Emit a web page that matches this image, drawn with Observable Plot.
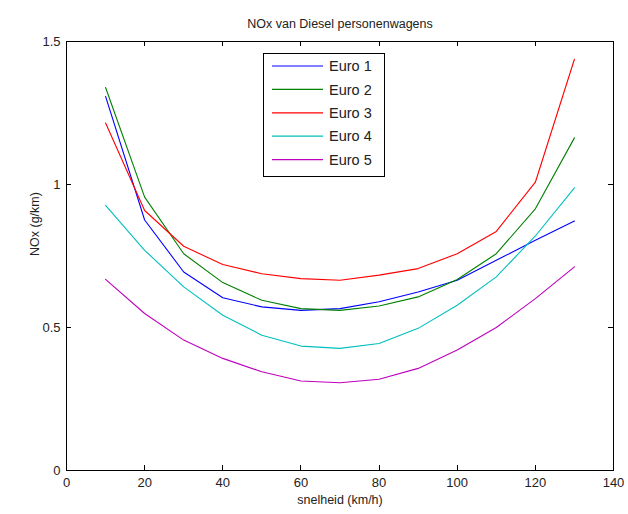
<!DOCTYPE html>
<html>
<head>
<meta charset="utf-8">
<script src="https://cdn.jsdelivr.net/npm/d3@7"></script>
<script src="https://cdn.jsdelivr.net/npm/@observablehq/plot@0.6"></script>
<style>
  body { margin: 0; background: #fff; }
  #chart { position: relative; width: 628px; height: 514px; }
  svg { font-family: Arial, "Liberation Sans", sans-serif; }
</style>
</head>
<body>
<div id="chart"></div>
<script>
const speeds = [10, 20, 30, 40, 50, 60, 70, 80, 90, 100, 110, 120, 130];
const seriesNames = ["Euro 1", "Euro 2", "Euro 3", "Euro 4", "Euro 5"];
const seriesColors = ["#0000ff", "#008000", "#ff0000", "#00bfbf", "#bf00bf"];
const euro1 = [1.308, 0.876, 0.694, 0.604, 0.572, 0.560, 0.566, 0.590, 0.624, 0.665, 0.735, 0.805, 0.872];
const euro2 = [1.339, 0.956, 0.758, 0.657, 0.595, 0.566, 0.560, 0.575, 0.607, 0.668, 0.758, 0.915, 1.163];
const euro3 = [1.215, 0.909, 0.784, 0.720, 0.688, 0.671, 0.665, 0.683, 0.706, 0.758, 0.836, 1.008, 1.438];
const euro4 = [0.927, 0.770, 0.642, 0.543, 0.473, 0.435, 0.427, 0.444, 0.497, 0.578, 0.677, 0.820, 0.988];
const euro5 = [0.668, 0.549, 0.456, 0.392, 0.345, 0.313, 0.307, 0.319, 0.357, 0.421, 0.500, 0.601, 0.712];
const xTicks = [0, 20, 40, 60, 80, 100, 120, 140];
const yTicks = [0, 0.5, 1, 1.5];
const titleText = "NOx van Diesel personenwagens";
const xLabel = "snelheid (km/h)";
const yLabel = "NOx (g/km)";

const allSeries = [euro1, euro2, euro3, euro4, euro5];
const rows = [];
allSeries.forEach((vals, i) => {
  vals.forEach((v, j) => rows.push({series: seriesNames[i], speed: speeds[j], nox: v}));
});

const plot = Plot.plot({
  width: 628,
  height: 514,
  marginLeft: 66,
  marginRight: 15,
  marginTop: 41,
  marginBottom: 44,
  style: {fontFamily: "Arial, 'Liberation Sans', sans-serif", background: "#fff"},
  x: {domain: [0, 140], ticks: xTicks},
  y: {domain: [0, 1.5], ticks: yTicks},
  color: {domain: seriesNames, range: seriesColors},
  marks: [
    Plot.axisX({ticks: xTicks, tickSize: 0, tickPadding: 7, fontSize: 13, label: null, color: "#222"}),
    Plot.axisY({ticks: yTicks, tickSize: 0, tickPadding: 6, fontSize: 13, label: null, color: "#222", tickFormat: d3.format("~g")}),
    Plot.lineY(rows, {x: "speed", y: "nox", z: "series", stroke: "series", strokeWidth: 1.1}),
    Plot.frame({stroke: "#000", strokeWidth: 1}),
    Plot.text([titleText], {frameAnchor: "top", dy: -22, fontSize: 12.5, fill: "#222"}),
    Plot.text([xLabel], {frameAnchor: "bottom", dy: 33, fontSize: 12.5, fill: "#222"}),
    Plot.text([yLabel], {frameAnchor: "left", dx: -32, rotate: -90, fontSize: 12.5, fill: "#222"})
  ]
});

document.getElementById("chart").appendChild(plot);

// inward ticks on all four sides, via the plot's scales
const sx = plot.scale("x"), sy = plot.scale("y");
const svg = d3.select(plot);
const x0 = sx.apply(0), x1 = sx.apply(140), y0 = sy.apply(0), y1 = sy.apply(1.5);
const tg = svg.append("g").attr("stroke", "#000").attr("stroke-width", 1);
const tl = 5;
xTicks.forEach(t => {
  const px = Math.round(sx.apply(t)) + 0.5;
  tg.append("line").attr("x1", px).attr("x2", px).attr("y1", y0).attr("y2", y0 - tl);
  tg.append("line").attr("x1", px).attr("x2", px).attr("y1", y1).attr("y2", y1 + tl);
});
yTicks.forEach(t => {
  const py = Math.round(sy.apply(t)) + 0.5;
  tg.append("line").attr("y1", py).attr("y2", py).attr("x1", x0).attr("x2", x0 + tl);
  tg.append("line").attr("y1", py).attr("y2", py).attr("x1", x1).attr("x2", x1 - tl);
});

// legend box
const lg = svg.append("g").attr("transform", "translate(263,53)");
lg.append("rect").attr("x", 0.5).attr("y", 0.5).attr("width", 121).attr("height", 123)
  .attr("fill", "#fff").attr("stroke", "#000").attr("stroke-width", 1);
seriesNames.forEach((name, i) => {
  const yy = 13 + i * 23.4;
  lg.append("line").attr("x1", 9).attr("x2", 60).attr("y1", yy).attr("y2", yy)
    .attr("stroke", seriesColors[i]).attr("stroke-width", 1.2);
  lg.append("text").attr("x", 66).attr("y", yy).attr("dy", "0.36em")
    .attr("text-anchor", "start")
    .attr("font-size", 14.5).attr("fill", "#222").text(name);
});
</script>
</body>
</html>
